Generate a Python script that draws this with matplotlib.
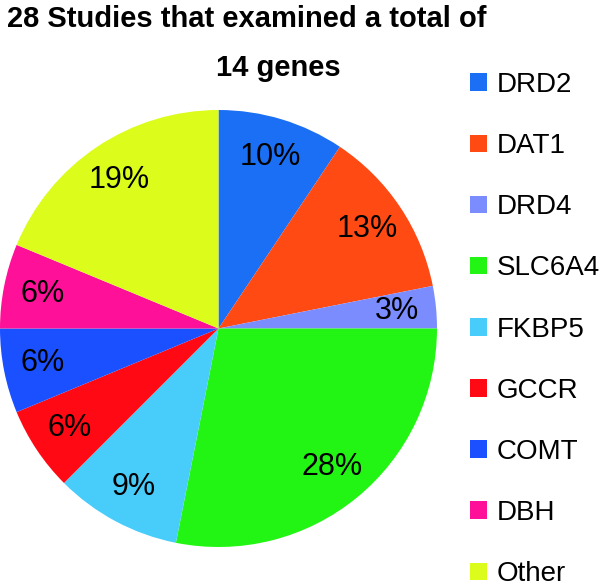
import numpy as np
import matplotlib.pyplot as plt

plt.rcParams['font.family'] = ['Liberation Sans', 'DejaVu Sans']

# 基因與研究數(共32次,百分比標籤照原圖)
genes = ['DRD2', 'DAT1', 'DRD4', 'SLC6A4', 'FKBP5', 'GCCR', 'COMT', 'DBH', 'Other']
counts = [3, 4, 1, 9, 3, 2, 2, 2, 6]
pct_labels = ['10%', '13%', '3%', '28%', '9%', '6%', '6%', '6%', '19%']
colors = ['#1a6ff5', '#ff4a14', '#7b8cff', '#22f514', '#48ccfa',
          '#ff0a14', '#1a50ff', '#ff1099', '#dcfc1c']

fig = plt.figure(figsize=(6, 5.87), dpi=100)
ax = fig.add_axes([0, 40 / 587, 437 / 600, 437 / 587])

wedges, _ = ax.pie(counts, colors=colors, startangle=90, counterclock=False,
                   radius=1, wedgeprops=dict(linewidth=0))
# 百分比文字
for w, lab in zip(wedges, pct_labels):
    ang = np.deg2rad((w.theta1 + w.theta2) / 2)
    ax.text(0.82 * np.cos(ang), 0.82 * np.sin(ang), lab, ha='center', va='center',
            fontsize=22)
ax.set_xlim(-1, 1)
ax.set_ylim(-1, 1)

fig.text(247 / 600, 1 - 19 / 587, '28 Studies that examined a total of',
         ha='center', va='center', fontsize=21, fontweight='bold')
fig.text(278 / 600, 1 - 68 / 587, '14 genes',
         ha='center', va='center', fontsize=21, fontweight='bold')

fig.legend(wedges, genes, loc='upper left', bbox_to_anchor=(470 / 600, 1 - 72 / 587),
           frameon=False, fontsize=20, labelspacing=1.265, handlelength=0.6,
           handleheight=0.6, handletextpad=0.35, borderpad=0, borderaxespad=0)

plt.savefig('out.png')
